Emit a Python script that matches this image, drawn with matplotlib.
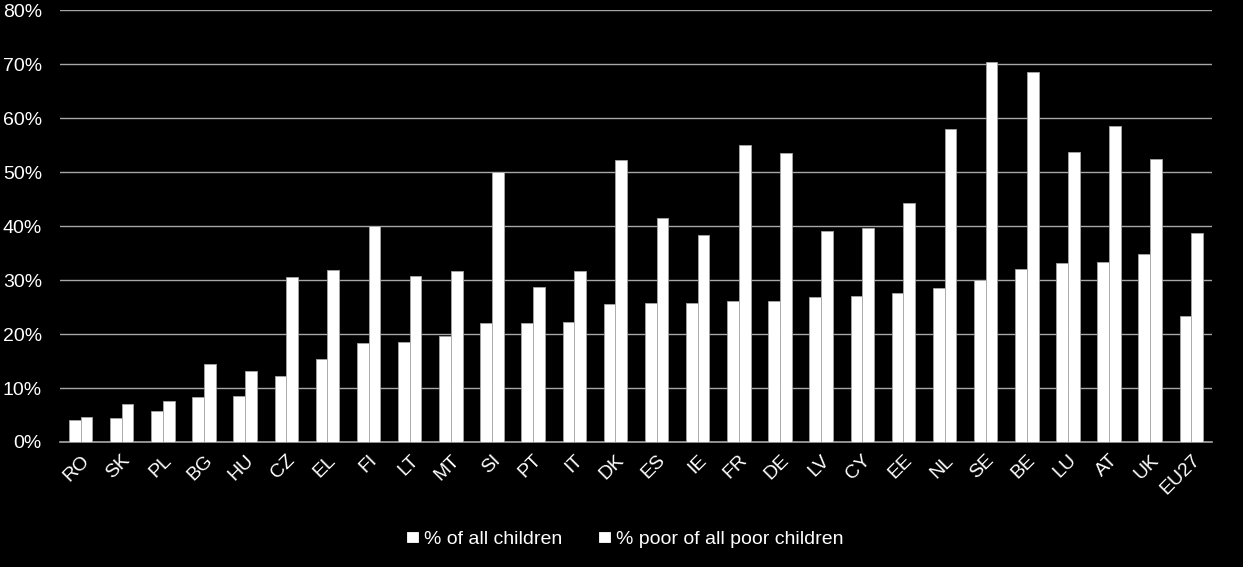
import matplotlib.pyplot as plt
import numpy as np
from matplotlib.ticker import PercentFormatter

countries = ['RO', 'SK', 'PL', 'BG', 'HU', 'CZ', 'EL', 'FI', 'LT', 'MT', 'SI', 'PT', 'IT', 'DK',
             'ES', 'IE', 'FR', 'DE', 'LV', 'CY', 'EE', 'NL', 'SE', 'BE', 'LU', 'AT', 'UK', 'EU27']
all_children = [4.0, 4.4, 5.7, 8.3, 8.6, 12.2, 15.4, 18.3, 18.6, 19.6, 22.0, 22.0, 22.2, 25.5,
                25.7, 25.8, 26.2, 26.2, 26.9, 27.1, 27.6, 28.5, 30.0, 32.0, 33.1, 33.3, 34.9, 23.3]
poor_children = [4.7, 7.0, 7.6, 14.4, 13.1, 30.5, 31.8, 40.0, 30.7, 31.6, 50.0, 28.8, 31.6, 52.3,
                 41.5, 38.3, 55.0, 53.5, 39.0, 39.6, 44.2, 58.0, 70.4, 68.6, 53.7, 58.6, 52.5, 38.7]

plt.rcParams['font.family'] = ['Liberation Sans', 'DejaVu Sans']

fig = plt.figure(figsize=(12.43, 5.67), dpi=100, facecolor='black')
ax = fig.add_axes([0.0483, 0.2205, 0.9267, 0.7615], facecolor='black')

x = np.arange(len(countries))
w = 0.285
ax.bar(x - w / 2, all_children, w, color='white', edgecolor='#a6a6a6', linewidth=0.6,
       label='% of all children', zorder=3)
ax.bar(x + w / 2, poor_children, w, color='white', edgecolor='#a6a6a6', linewidth=0.6,
       label='% poor of all poor children', zorder=3)

ax.set_xlim(-0.5, len(countries) - 0.5)
ax.set_ylim(0, 80)
ax.set_yticks(range(0, 81, 10))
ax.yaxis.set_major_formatter(PercentFormatter(decimals=0))
ax.grid(axis='y', color='#a6a6a6', linewidth=1.0, zorder=0)
ax.set_xticks(x)
ax.set_xticklabels(countries, rotation=45, ha='right', rotation_mode='anchor')
ax.tick_params(axis='both', length=0, colors='white', labelsize=14)
ax.tick_params(axis='x', pad=7)
ax.tick_params(axis='y', pad=13)
for s in ['top', 'right', 'left']:
    ax.spines[s].set_visible(False)
ax.spines['bottom'].set_color('#a6a6a6')
ax.spines['bottom'].set_linewidth(1.2)

leg = fig.legend(loc='center', bbox_to_anchor=(0.503, 0.048), ncol=2, frameon=False,
                 fontsize=14, labelcolor='white', handlelength=0.55, handleheight=0.4,
                 handletextpad=0.3, columnspacing=1.9)
for h in leg.legend_handles:
    h.set_edgecolor('white')

fig.savefig('out.png', dpi=100, facecolor='black')
